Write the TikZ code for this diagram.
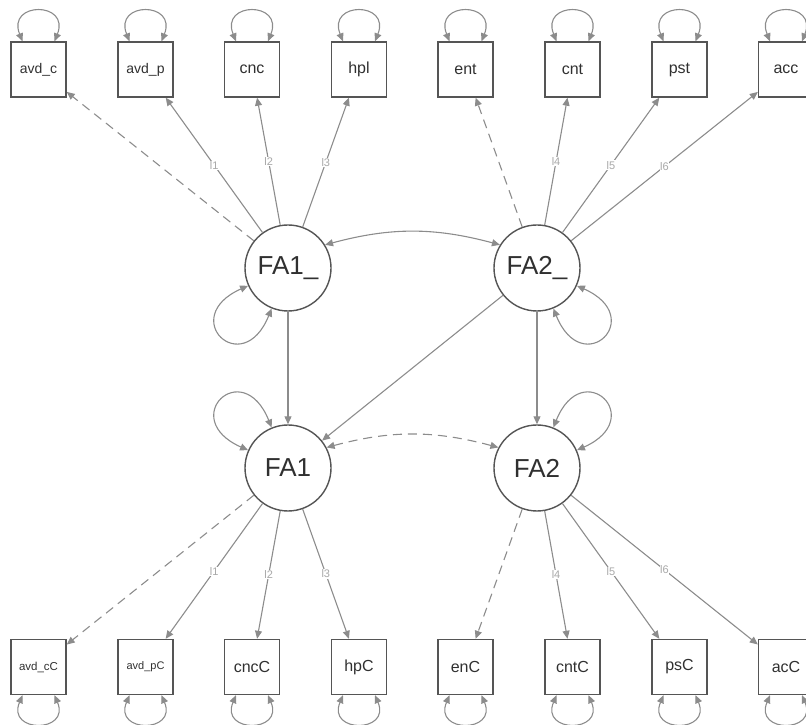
\documentclass[tikz,border=0pt]{standalone}
\usepackage{fontspec}
\setmainfont{Liberation Sans}
\usetikzlibrary{arrows.meta}
\definecolor{edgec}{HTML}{8C8C8C}
\definecolor{boxc}{HTML}{555555}
\definecolor{txtc}{HTML}{303030}
\definecolor{labc}{HTML}{A8A8A8}
\newcommand\fsz[1]{\fontsize{#1}{#1}\selectfont}
\begin{document}
\begin{tikzpicture}[x=1pt,y=1pt,
  obs/.style={rectangle,draw=boxc,line width=1.4pt,minimum size=55pt,inner sep=0pt,text=txtc},
  lat/.style={circle,draw=boxc,line width=1.4pt,minimum size=86pt,inner sep=0pt,text=txtc,font=\fsz{26}},
  tip/.style={Triangle[length=8pt,width=7pt]},
  ld/.style={draw=edgec,line width=1.1pt,-{Triangle[length=8pt,width=7pt]}},
  cv/.style={draw=edgec,line width=1.1pt,{Triangle[length=8pt,width=7pt]}-{Triangle[length=8pt,width=7pt]}},
  dsh/.style={dash pattern=on 9pt off 6pt},
  lab/.style={font=\fsz{11},text=labc,fill=white,inner sep=0.6pt}
]
\useasboundingbox (0,0) rectangle (806,725);

% observed indicators, first occasion
\node[obs,font=\fsz{14}] (avdc) at (38.5,655.5) {avd\_c};
\node[obs,font=\fsz{14}] (avdp) at (145.5,655.5) {avd\_p};
\node[obs,font=\fsz{16}] (cnc)  at (252,655.5) {cnc};
\node[obs,font=\fsz{16}] (hpl)  at (359,655.5) {hpl};
\node[obs,font=\fsz{16}] (ent)  at (465.5,655.5) {ent};
\node[obs,font=\fsz{16}] (cnt)  at (572.5,655.5) {cnt};
\node[obs,font=\fsz{16}] (pst)  at (679.5,655.5) {pst};
\node[obs,font=\fsz{16}] (acc)  at (786,655.5) {acc};

% observed indicators, second occasion
\node[obs,font=\fsz{11.5}] (avdcC) at (38.5,58) {avd\_cC};
\node[obs,font=\fsz{11}]   (avdpC) at (145.5,58) {avd\_pC};
\node[obs,font=\fsz{16}]   (cncC)  at (252,58) {cncC};
\node[obs,font=\fsz{16}]   (hpC)   at (359,58) {hpC};
\node[obs,font=\fsz{16}]   (enC)   at (465.5,58) {enC};
\node[obs,font=\fsz{16}]   (cntC)  at (572.5,58) {cntC};
\node[obs,font=\fsz{16}]   (psC)   at (679.5,58) {psC};
\node[obs,font=\fsz{16}]   (acC)   at (786,58) {acC};

% latent factors
\node[lat] (fa1u) at (288,457) {FA1\_};
\node[lat] (fa2u) at (537,457) {FA2\_};
\node[lat] (fa1)  at (288,257) {FA1};
\node[lat] (fa2)  at (537,257) {FA2};

% residual variances of the indicators
\foreach \n in {avdc,avdp,cnc,hpl,ent,cnt,pst,acc}
  \draw[cv] ([xshift=-16pt]\n.north) .. controls +(-16,40) and +(16,40) .. ([xshift=16pt]\n.north);
\foreach \n in {avdcC,avdpC,cncC,hpC,enC,cntC,psC,acC}
  \draw[cv] ([xshift=-16pt]\n.south) .. controls +(-16,-38) and +(16,-38) .. ([xshift=16pt]\n.south);

% loadings, first occasion
\draw[ld,dsh] (fa1u) -- (avdc);
\draw[ld] (fa1u) -- node[lab]{l1} (avdp);
\draw[ld] (fa1u) -- node[lab]{l2} (cnc);
\draw[ld] (fa1u) -- node[lab]{l3} (hpl);
\draw[ld,dsh] (fa2u) -- (ent);
\draw[ld] (fa2u) -- node[lab]{l4} (cnt);
\draw[ld] (fa2u) -- node[lab]{l5} (pst);
\draw[ld] (fa2u) -- node[lab]{l6} (acc);

% loadings, second occasion
\draw[ld,dsh] (fa1) -- (avdcC);
\draw[ld] (fa1) -- node[lab]{l1} (avdpC);
\draw[ld] (fa1) -- node[lab]{l2} (cncC);
\draw[ld] (fa1) -- node[lab]{l3} (hpC);
\draw[ld,dsh] (fa2) -- (enC);
\draw[ld] (fa2) -- node[lab]{l4} (cntC);
\draw[ld] (fa2) -- node[lab]{l5} (psC);
\draw[ld] (fa2) -- node[lab]{l6} (acC);

% structural paths
\draw[ld] (fa1u) -- (fa1);
\draw[ld] (fa2u) -- (fa2);
\draw[ld] (fa2u) -- (fa1);

% factor covariances
\draw[cv] (fa1u.32) to[out=15,in=165] (fa2u.148);
\draw[cv,dsh] (fa1.28) to[out=15,in=165] (fa2.152);

% factor variances
\draw[cv] (fa1u.204) .. controls +(204:78) and +(248:78) .. (fa1u.248);
\draw[cv] (fa2u.336) .. controls +(336:78) and +(292:78) .. (fa2u.292);
\draw[cv] (fa1.156) .. controls +(156:78) and +(112:78) .. (fa1.112);
\draw[cv] (fa2.24) .. controls +(24:78) and +(68:78) .. (fa2.68);
\end{tikzpicture}
\end{document}
